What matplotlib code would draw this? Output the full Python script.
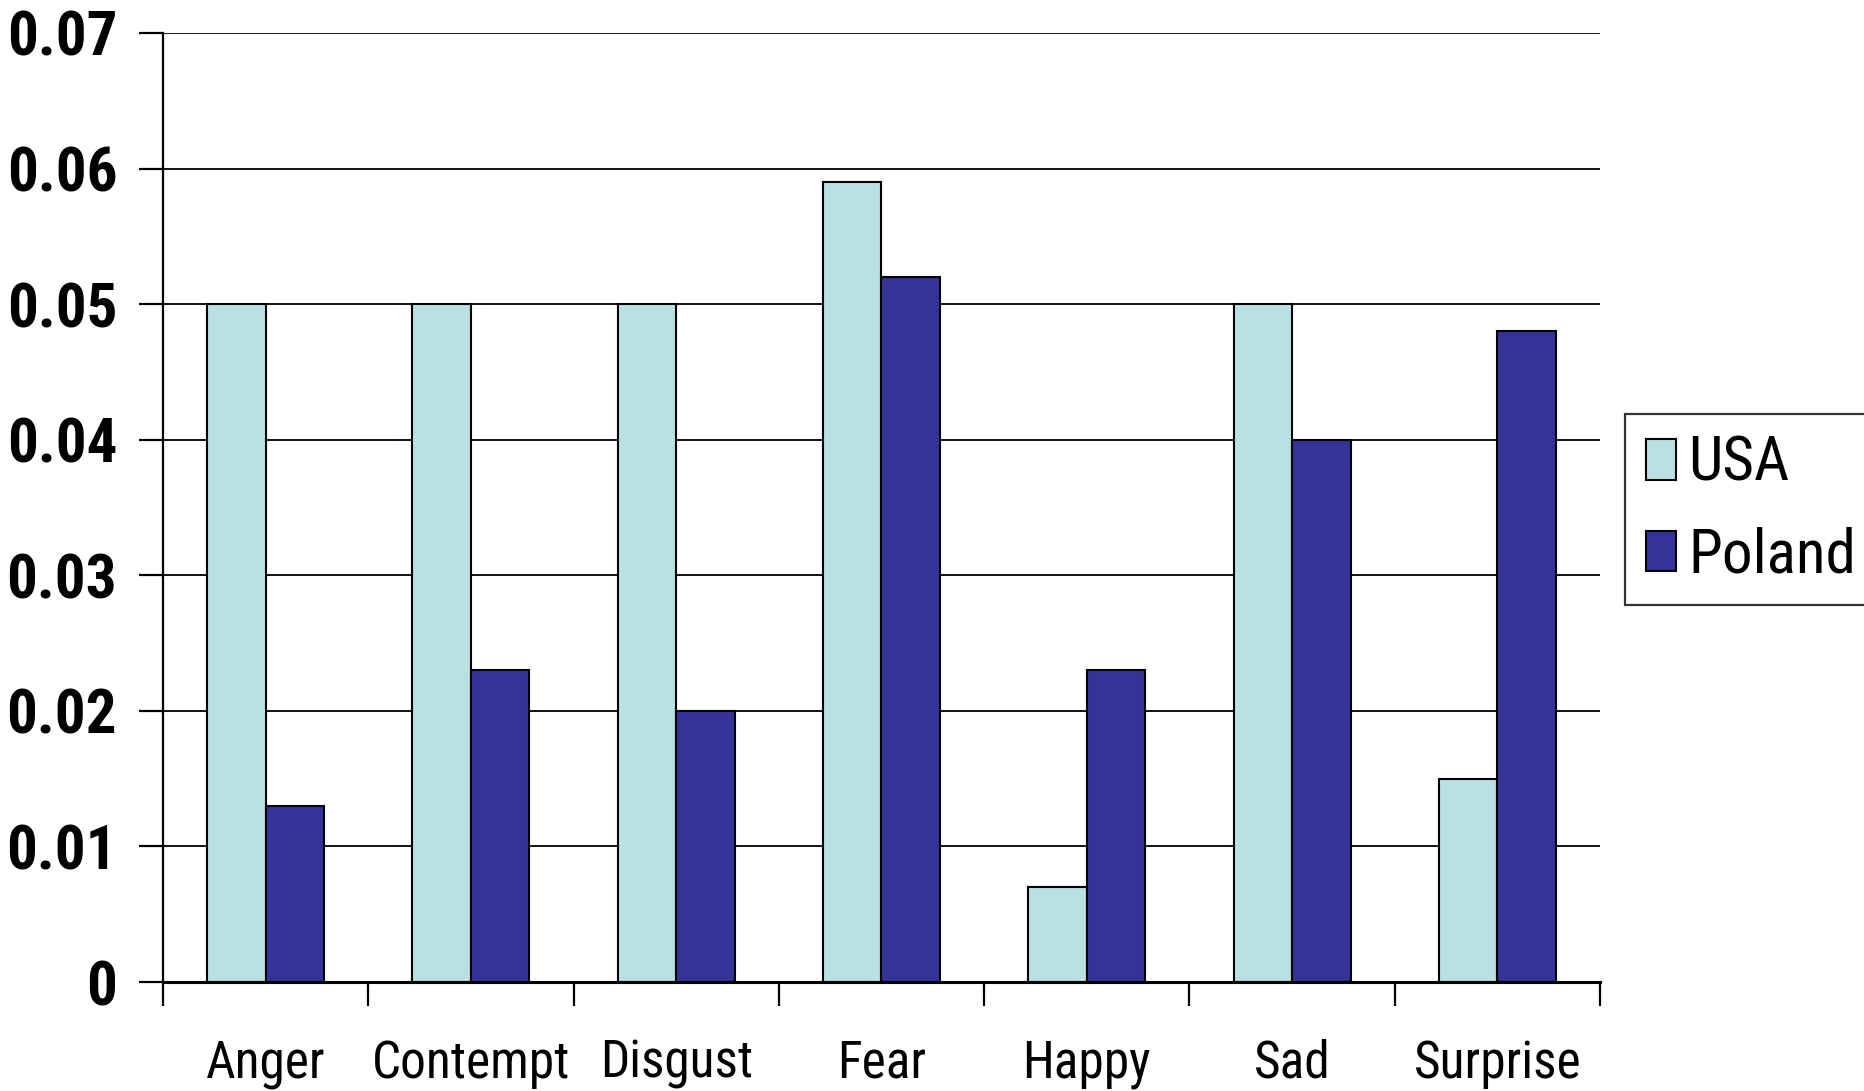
import matplotlib
matplotlib.use("Agg")
import matplotlib.pyplot as plt
import numpy as np
from matplotlib.ticker import FixedLocator, NullFormatter

categories = ["Anger", "Contempt", "Disgust", "Fear", "Happy", "Sad", "Surprise"]
usa = [0.050, 0.050, 0.050, 0.059, 0.007, 0.050, 0.015]
poland = [0.013, 0.023, 0.020, 0.052, 0.023, 0.040, 0.048]
y_ticks = [0.0, 0.01, 0.02, 0.03, 0.04, 0.05, 0.06, 0.07]
y_labels = ["0", "0.01", "0.02", "0.03", "0.04", "0.05", "0.06", "0.07"]

usa_color = "#BBE0E3"
poland_color = "#333399"

narrow = ["Roboto Condensed", "Archivo Narrow", "DejaVu Sans"]

fig = plt.figure(figsize=(18.64, 10.91), dpi=100)
ax = fig.add_axes([163 / 1864, 1 - 982 / 1091, (1600 - 163) / 1864, (982 - 33) / 1091])

x = np.arange(len(categories))
w = 0.285
ax.bar(x - w / 2, usa, w, color=usa_color, edgecolor="black", linewidth=1.5, label="USA", zorder=3)
ax.bar(x + w / 2, poland, w, color=poland_color, edgecolor="black", linewidth=1.5, label="Poland", zorder=3)

ax.set_xlim(-0.5, len(categories) - 0.5)
ax.set_ylim(0, 0.07)

# horizontal gridlines at every major tick
ax.set_yticks(y_ticks)
ax.set_yticklabels(y_labels, family=narrow, fontweight="bold", fontsize=44)
ax.yaxis.grid(True, color="black", linewidth=1.3, zorder=0)
ax.set_axisbelow(True)

# category labels centred, tick marks at the category boundaries
ax.set_xticks(x)
ax.set_xticklabels(categories, family=narrow, fontsize=37)
ax.tick_params(axis="x", which="major", length=0, pad=41)
ax.xaxis.set_minor_locator(FixedLocator(np.arange(-0.5, len(categories), 1.0)))
ax.xaxis.set_minor_formatter(NullFormatter())
ax.tick_params(axis="x", which="minor", length=17, width=1.6, direction="out")
ax.tick_params(axis="y", length=17, width=1.6, direction="out", pad=16)

for side in ("top", "right"):
    ax.spines[side].set_visible(False)
ax.spines["left"].set_linewidth(1.6)
ax.spines["bottom"].set_linewidth(2.2)
ax.spines["bottom"].set_zorder(4)

leg = ax.legend(loc="upper left", bbox_to_anchor=(1625 / 1864, 1 - 414 / 1091),
                bbox_transform=fig.transFigure, prop={"family": narrow, "size": 44},
                frameon=True, fancybox=False, edgecolor="black", borderpad=0.34,
                handlelength=0.5, handleheight=0.65, handletextpad=0.2, labelspacing=0.55,
                borderaxespad=0)
leg.get_frame().set_linewidth(1.6)

fig.savefig("out.png", dpi=100, facecolor="white")
